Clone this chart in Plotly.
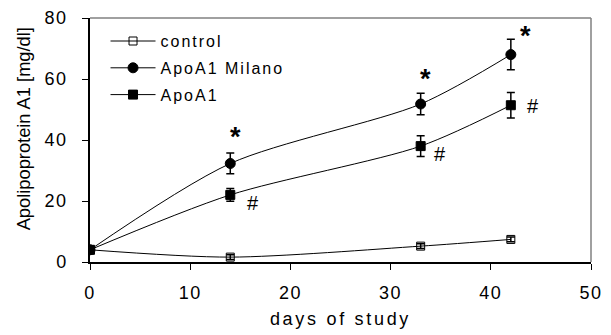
import plotly.graph_objects as go

days = [0, 14, 33, 42]
control = [4.0, 1.6, 5.2, 7.4]
control_err = [0.0, 0.8, 0.8, 0.8]
milano = [4.0, 32.3, 51.8, 68.0]
milano_err = [0.0, 3.4, 3.5, 5.0]
apoa1 = [4.0, 22.0, 38.0, 51.4]
apoa1_err = [0.0, 2.1, 3.4, 4.2]

x_ticks = [0, 10, 20, 30, 40, 50]
y_ticks = [0, 20, 40, 60, 80]

star_x = [14.5, 33.5, 43.5]
star_y = [41.0, 60.0, 74.0]
hash_x = [16.3, 34.9, 44.2]
hash_y = [19.3, 35.3, 51.2]

font = "Liberation Sans, Arial, sans-serif"


def spaced(t, px):
    return f'<span style="letter-spacing:{px}px">{t}</span>'


fig = go.Figure()


def add(name, y, err, symbol, size):
    fig.add_trace(go.Scatter(
        x=days, y=y, name=spaced(name, 2), mode="lines+markers",
        legendgroup=name,
        line=dict(color="black", width=1, shape="spline", smoothing=0.8),
        marker=dict(symbol=symbol, size=size, color="black",
                    line=dict(color="black", width=1)),
        error_y=dict(type="data", array=err, visible=True, color="black",
                     thickness=1.5, width=4),
    ))


add("control", control, control_err, "square-open", 8)
add("ApoA1 Milano", milano, milano_err, "circle", 10)
add("ApoA1", apoa1, apoa1_err, "square", 9)

for x, y in zip(star_x, star_y):
    fig.add_annotation(x=x, y=y, text="<b>*</b>", showarrow=False,
                       font=dict(family=font, size=27, color="black"))
for x, y in zip(hash_x, hash_y):
    fig.add_annotation(x=x, y=y, text="#", showarrow=False,
                       font=dict(family=font, size=20, color="black"))

# y-axis title (placed as in the reference, slightly above plot centre)
fig.add_annotation(xref="paper", yref="paper", x=-0.1326, y=0.546,
                   text="Apolipoprotein A1 [mg/dl]", textangle=-90,
                   showarrow=False, xanchor="center", yanchor="middle",
                   font=dict(family=font, size=18.3, color="black"))

# top and right frame lines
fig.add_shape(type="line", xref="paper", yref="paper", x0=0, x1=1, y0=1, y1=1,
              line=dict(color="#808080", width=1.5))
fig.add_shape(type="line", xref="paper", yref="paper", x0=1, x1=1, y0=0, y1=1,
              line=dict(color="#808080", width=1.5))

fig.update_layout(
    width=611, height=335,
    margin=dict(l=90, r=8, t=14, b=73),
    paper_bgcolor="white", plot_bgcolor="white",
    font=dict(family=font, color="black", size=15),
    showlegend=True,
    legend=dict(x=0.031, y=0.975, xanchor="left", yanchor="top",
                bgcolor="rgba(0,0,0,0)", font=dict(size=16),
                itemwidth=45, tracegroupgap=3, traceorder="grouped"),
    xaxis=dict(range=[0, 50], tickvals=x_ticks,
               ticktext=[spaced(str(v), 1.5) for v in x_ticks],
               ticklabeloverflow="allow", ticklabelstandoff=8,
               showgrid=False, zeroline=False, showline=True,
               linecolor="black", linewidth=1.5, ticks="outside",
               ticklen=6, tickcolor="black", tickfont=dict(size=18),
               title=dict(text=spaced("days of study", 2.7), font=dict(size=18), standoff=10)),
    yaxis=dict(range=[0, 80], tickvals=y_ticks,
               ticktext=[spaced(str(v), 1.5) for v in y_ticks],
               showgrid=False, zeroline=False, showline=True,
               linecolor="black", linewidth=1.5, ticks="outside",
               ticklen=6, tickcolor="black", tickfont=dict(size=18),
               ticklabelstandoff=11),
)

fig.write_html("out.html")
